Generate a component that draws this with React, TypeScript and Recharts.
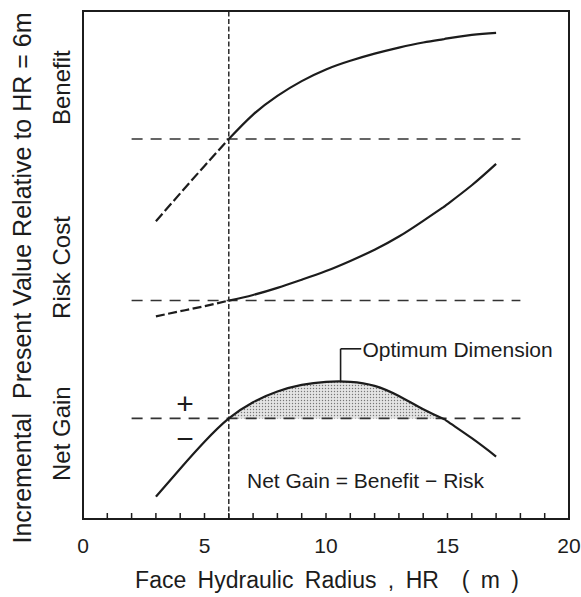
import React from 'react';
import {
  ComposedChart,
  Line,
  Area,
  XAxis,
  YAxis,
  ReferenceLine,
  ReferenceArea,
  ReferenceDot,
} from 'recharts';

const FONT = '"Liberation Sans", Arial, sans-serif';
const INK = '#1c1c1c';

// face hydraulic radius (m) at which the curves were sampled
const hr = [3, 4, 5, 6, 7, 8, 9, 10, 11, 12, 13, 14, 14.8, 15, 16, 17];
// the three panels share one vertical scale (0..100), each with its own zero line
const benefit = [58.6, 64.1, 69.5, 74.8, 79.6, 83.3, 86.2, 88.5, 90.2, 91.6, 92.8, 93.8, 94.4, 94.6, 95.3, 95.7];
const riskCost = [39.9, 40.9, 41.9, 43.0, 44.1, 45.5, 47.1, 48.8, 50.8, 53.0, 55.6, 58.7, 61.3, 62.0, 65.7, 69.9];
const netGain = [4.4, 9.9, 15.2, 19.8, 23.0, 25.1, 26.4, 27.0, 27.0, 26.2, 24.2, 21.6, 19.8, 19.2, 15.9, 12.3];

// zero level of each panel = value at HR = 6 m
const benefitZero = 74.8;
const riskZero = 43.0;
const gainZero = 19.8;

const referenceHR = 6;
const breakEvenHR = 14.8;
const optimumHR = 10.6;
const optimumGain = 27.1;

const xTicks = [0, 1, 2, 3, 4, 5, 6, 7, 8, 9, 10, 11, 12, 13, 14, 15, 16, 17, 18, 19, 20];
const panelNames = ['Net Gain', 'Risk Cost', 'Benefit'];
const panelLabelAt = [16.8, 49.5, 84.9];

const data = hr.map((h, i) => ({
  hr: h,
  benefitEst: h <= referenceHR ? benefit[i] : null,
  benefit: h >= referenceHR ? benefit[i] : null,
  riskEst: h <= referenceHR ? riskCost[i] : null,
  risk: h >= referenceHR ? riskCost[i] : null,
  net: netGain[i],
  gainBand: h >= referenceHR && h <= breakEvenHR ? [gainZero, netGain[i]] : null,
}));

// rotated panel names on the left axis
const PanelTick = ({ x, y, payload }: any) => {
  const idx = panelLabelAt.indexOf(payload.value);
  return (
    <text
      x={x}
      y={y}
      transform={`rotate(-90 ${x} ${y})`}
      textAnchor="middle"
      fontSize={24}
      fontFamily={FONT}
      fill={INK}
    >
      {panelNames[idx]}
    </text>
  );
};

const zeroLine = (y: number) => (
  <ReferenceLine
    key={y}
    segment={[{ x: 2, y }, { x: 18, y }]}
    stroke="#333"
    strokeWidth={1.6}
    strokeDasharray="11 8"
  />
);

export default function App() {
  return (
    <div style={{ width: 581, height: 597, background: '#fff' }}>
      <style>{'body{margin:0}'}</style>
      <ComposedChart
        width={581}
        height={597}
        data={data}
        margin={{ top: 11, right: 12, bottom: 0, left: 0 }}
        style={{ fontFamily: FONT }}
      >
        <defs>
          <pattern id="stipple" width="3" height="3" patternUnits="userSpaceOnUse">
            <rect width="3" height="3" fill="#e4e4e4" />
            <circle cx="1.5" cy="1.5" r="0.7" fill="#777" />
          </pattern>
        </defs>

        <XAxis
          dataKey="hr"
          type="number"
          domain={[0, 20]}
          ticks={xTicks}
          interval={0}
          height={78}
          axisLine={false}
          tickLine={{ stroke: INK, strokeWidth: 1.5 }}
          tickSize={-6}
          tickMargin={25}
          tick={{ fontSize: 21, fill: INK, fontFamily: FONT }}
          tickFormatter={(v: number) => (v % 5 === 0 ? String(v) : '')}
        />
        <YAxis
          type="number"
          domain={[0, 100]}
          ticks={panelLabelAt}
          width={83}
          axisLine={false}
          tickLine={false}
          tickSize={0}
          tickMargin={13}
          tick={<PanelTick />}
        />

        <Area
          dataKey="gainBand"
          type="natural"
          stroke="none"
          fill="url(#stipple)"
          fillOpacity={1}
          isAnimationActive={false}
          connectNulls={false}
        />

        <ReferenceArea x1={0} x2={20} y1={0} y2={100} fill="none" stroke={INK} strokeWidth={2} />
        <ReferenceLine x={referenceHR} stroke={INK} strokeWidth={1.4} strokeDasharray="5 2.5" />
        {zeroLine(benefitZero)}
        {zeroLine(riskZero)}
        {zeroLine(gainZero)}

        <Line dataKey="benefitEst" type="natural" stroke={INK} strokeWidth={2.2} strokeDasharray="10 3.5" dot={false} isAnimationActive={false} />
        <Line dataKey="benefit" type="natural" stroke={INK} strokeWidth={2.2} dot={false} isAnimationActive={false} />
        <Line dataKey="riskEst" type="natural" stroke={INK} strokeWidth={2.2} strokeDasharray="9 3.5" dot={false} isAnimationActive={false} />
        <Line dataKey="risk" type="natural" stroke={INK} strokeWidth={2.2} dot={false} isAnimationActive={false} />
        <Line dataKey="net" type="natural" stroke={INK} strokeWidth={2.2} dot={false} isAnimationActive={false} />

        {/* leader from the peak of the net gain curve */}
        <ReferenceLine segment={[{ x: optimumHR, y: optimumGain }, { x: optimumHR, y: 33.5 }]} stroke={INK} strokeWidth={1.6} />
        <ReferenceLine segment={[{ x: optimumHR, y: 33.5 }, { x: 11.45, y: 33.5 }]} stroke={INK} strokeWidth={1.6} />
        <ReferenceDot
          x={11.5}
          y={33.3}
          r={0}
          stroke="none"
          label={{ value: 'Optimum Dimension', position: 'right', offset: 0, fontSize: 21, fill: INK, fontFamily: FONT }}
        />
        <ReferenceDot
          x={6.75}
          y={7.5}
          r={0}
          stroke="none"
          label={{ value: 'Net Gain = Benefit − Risk', position: 'right', offset: 0, fontSize: 21, fill: INK, fontFamily: FONT }}
        />
        <ReferenceDot x={4.2} y={22.8} r={0} stroke="none" label={{ value: '+', position: 'center', fontSize: 30, fill: INK, fontFamily: FONT }} />
        <ReferenceDot x={4.2} y={15.9} r={0} stroke="none" label={{ value: '−', position: 'center', fontSize: 30, fill: INK, fontFamily: FONT }} />

        <text
          x={31}
          y={278}
          transform="rotate(-90 31 278)"
          textAnchor="middle"
          fontSize={25}
          fontFamily={FONT}
          fill={INK}
          style={{ whiteSpace: 'pre' }}
        >
          {'Incremental  Present Value Relative to HR = 6m'}
        </text>
        <text
          x={327}
          y={588}
          textAnchor="middle"
          fontSize={23}
          fontFamily={FONT}
          fill={INK}
          wordSpacing={5}
          style={{ whiteSpace: 'pre' }}
        >
          {'Face Hydraulic Radius , HR  ( m )'}
        </text>
      </ComposedChart>
    </div>
  );
}
